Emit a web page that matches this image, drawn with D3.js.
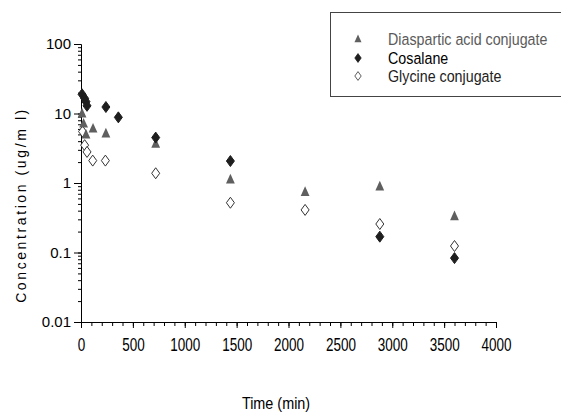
<!DOCTYPE html>
<html>
<head>
<meta charset="utf-8">
<script src="https://cdn.jsdelivr.net/npm/d3@7"></script>
<style>
  html, body { margin: 0; padding: 0; background: #fff; }
  svg { display: block; }
  text { font-family: "Liberation Sans", Arial, sans-serif; }
</style>
</head>
<body>
<svg id="chart" width="561" height="417"></svg>
<script>
// Plasma concentration (ug/ml) versus time (min)
const seriesNames = ["Diaspartic acid conjugate", "Cosalane", "Glycine conjugate"];

const diasparticTime  = [10, 25, 48, 116, 240, 720, 1440, 2160, 2880, 3600];
const diasparticConc  = [10.1, 7.2, 5.0, 6.1, 5.2, 3.7, 1.13, 0.75, 0.9, 0.335];

const cosalaneTime    = [10, 35, 48, 58, 240, 360, 720, 1440, 2880, 3600];
const cosalaneConc    = [18.9, 16.5, 14.8, 12.9, 12.4, 8.8, 4.5, 2.07, 0.169, 0.083];

const glycineTime     = [15, 35, 58, 113, 235, 720, 1440, 2160, 2880, 3600];
const glycineConc     = [5.5, 3.5, 2.8, 2.1, 2.1, 1.38, 0.52, 0.41, 0.257, 0.124];

const xTicks = [0, 500, 1000, 1500, 2000, 2500, 3000, 3500, 4000];
const yTicks = [0.01, 0.1, 1, 10, 100];
const yTickLabels = ["0.01", "0.1", "1", "10", "100"];

const svg = d3.select("#chart");

const x = d3.scaleLinear().domain([0, 4000]).range([81, 496]);
const y = d3.scaleLog().domain([0.01, 100]).range([322, 44]);

// ---- axes ----
const xMinor = d3.range(0, 4001, 100);
const xAxisMinor = d3.axisBottom(x).tickValues(xMinor).tickSize(4).tickFormat("");
const xAxisMajor = d3.axisBottom(x).tickValues(xTicks).tickSize(6).tickPadding(10)
  .tickFormat(d3.format("d"));

svg.append("g").attr("transform", `translate(0,${y(0.01)})`).call(xAxisMinor);
const gxM = svg.append("g").attr("transform", `translate(0,${y(0.01)})`).call(xAxisMajor);
gxM.select(".domain").remove();
// condensed digits under the time axis
gxM.selectAll("text")
  .attr("font-size", 18).attr("fill", "#000")
  .attr("transform", "scale(0.75,1)");

const yMinor = [];
for (let e = -2; e < 2; e++) for (let k = 1; k <= 9; k++) yMinor.push(k * Math.pow(10, e));
yMinor.push(100);
const yAxisMinor = d3.axisLeft(y).tickValues(yMinor).tickSize(3).tickFormat("");
const yAxisMajor = d3.axisLeft(y).tickValues(yTicks).tickSize(7).tickPadding(3)
  .tickFormat((d, i) => yTickLabels[i]);

svg.append("g").attr("transform", `translate(${x(0)},0)`).call(yAxisMinor);
const gyM = svg.append("g").attr("transform", `translate(${x(0)},0)`).call(yAxisMajor);
gyM.select(".domain").remove();
gyM.selectAll("text").attr("font-size", 15).attr("fill", "#000");

svg.selectAll(".domain, .tick line").attr("stroke", "#000").attr("stroke-width", 1);

// ---- axis titles ----
svg.append("text")
  .attr("transform", "translate(276,409) scale(0.9,1)")
  .attr("text-anchor", "middle")
  .attr("font-size", 16)
  .text("Time (min)");

svg.append("text")
  .attr("transform", `translate(26,205) rotate(-90)`)
  .attr("text-anchor", "middle")
  .attr("font-size", 14)
  .attr("letter-spacing", 2.6)
  .text("Concentration (ug/m l)");

// ---- marker shapes ----
const triangle = "M0,-5.5L4.4,4.2L-4.4,4.2Z";
const diamond = "M0,-5.5L4,0L0,5.5L-4,0Z";

const styles = [
  { path: triangle, fill: "#5f5f5f", stroke: "none", text: "#5a5a5a" },
  { path: diamond,  fill: "#1e1e1e", stroke: "#1e1e1e", text: "#000" },
  { path: diamond,  fill: "#fff",    stroke: "#333", text: "#222" }
];

function plot(times, conc, st) {
  svg.append("g").selectAll("path")
    .data(times.map((t, i) => [t, conc[i]]))
    .join("path")
    .attr("d", st.path)
    .attr("transform", d => `translate(${x(d[0])},${y(d[1])})`)
    .attr("fill", st.fill)
    .attr("stroke", st.stroke)
    .attr("stroke-width", 1);
}

plot(glycineTime, glycineConc, styles[2]);
plot(diasparticTime, diasparticConc, styles[0]);
plot(cosalaneTime, cosalaneConc, styles[1]);

// ---- legend ----
const legend = svg.append("g");
legend.append("rect")
  .attr("x", 330.5).attr("y", 12.5).attr("width", 260).attr("height", 84)
  .attr("fill", "#fff").attr("stroke", "#444").attr("stroke-width", 1);

const rowY = [39, 58, 76];
seriesNames.forEach((name, i) => {
  legend.append("path")
    .attr("d", styles[i].path)
    .attr("transform", `translate(358,${rowY[i]}) scale(0.8)`)
    .attr("fill", styles[i].fill)
    .attr("stroke", styles[i].stroke)
    .attr("stroke-width", 1);
  legend.append("text")
    .attr("transform", `translate(388,${rowY[i] + 6}) scale(0.84,1)`)
    .attr("font-size", 17)
    .attr("fill", styles[i].text)
    .text(name);
});
</script>
</body>
</html>
